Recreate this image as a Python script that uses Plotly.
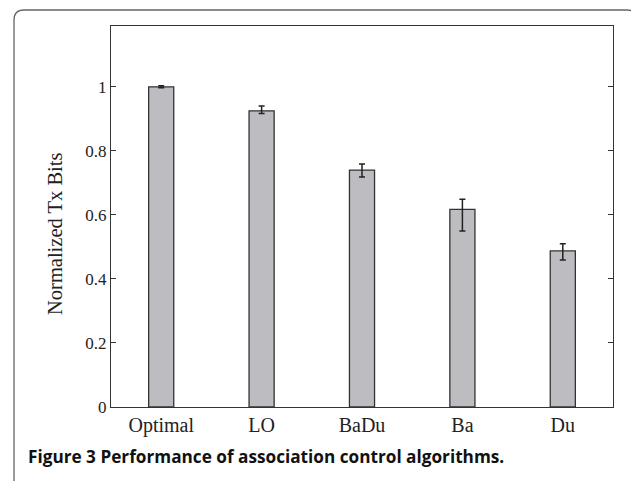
import plotly.graph_objects as go

categories = ["Optimal", "LO", "BaDu", "Ba", "Du"]
values = [1.0, 0.925, 0.740, 0.617, 0.4875]
err_plus = [0.003, 0.015, 0.019, 0.032, 0.022]
err_minus = [0.003, 0.008, 0.022, 0.067, 0.028]
y_ticks = [0, 0.2, 0.4, 0.6, 0.8, 1]
y_tick_labels = ["0", "0.2", "0.4", "0.6", "0.8", "1"]

OFF = 8  # page body margin
W, H = 639 - OFF, 481 - OFF
L, R, T, B = 111 - OFF, 613 - OFF, 26 - OFF, 407 - OFF

def px(x):
    return (x - OFF - L) / (R - L)

def py(y):
    return (B - (y - OFF)) / (B - T)

fig = go.Figure()
fig.add_trace(go.Bar(
    x=categories, y=values, width=0.25,
    marker=dict(color="#bdbdc1", line=dict(color="#333333", width=1.3)),
    error_y=dict(type="data", symmetric=False, array=err_plus, arrayminus=err_minus,
                 color="#222222", thickness=1.5, width=3),
))

# rounded outer frame
x0, x1, y0, y1, r = 14, 637, 10, 500, 10
path = (f"M {px(x0)},{py(y1)} L {px(x0)},{py(y0 + r)} "
        f"Q {px(x0)},{py(y0)} {px(x0 + r)},{py(y0)} "
        f"L {px(x1 - r)},{py(y0)} Q {px(x1)},{py(y0)} {px(x1)},{py(y0 + r)} "
        f"L {px(x1)},{py(y1)}")
fig.add_shape(type="path", xref="paper", yref="paper", path=path,
              line=dict(color="#666666", width=1.3), layer="below")

fig.add_annotation(
    x=px(26), y=py(457), xref="paper", yref="paper", xanchor="left", yanchor="middle",
    text="<b>Figure 3 Performance of association control algorithms.</b>",
    showarrow=False, font=dict(family="Open Sans", size=17.2, color="#111111"),
)

fig.add_annotation(
    x=px(55), y=py(234), xref="paper", yref="paper", xanchor="center", yanchor="middle",
    text="Normalized Tx Bits", textangle=-90,
    showarrow=False, font=dict(family="Liberation Serif", size=20.5, color="#222222"),
)

fig.update_layout(
    width=W, height=H,
    margin=dict(l=L, r=W - R, t=T, b=H - B),
    paper_bgcolor="white", plot_bgcolor="white",
    showlegend=False,
    font=dict(family="Liberation Serif", color="#222222"),
    xaxis=dict(
        range=[-0.5, 4.5], showline=True, linecolor="#333333", linewidth=1.3,
        mirror=True, ticks="", tickfont=dict(size=20, family="Liberation Serif"),
        showgrid=False, zeroline=False,
    ),
    yaxis=dict(
        range=[0, 1.19], tickvals=y_ticks, ticktext=y_tick_labels,
        showline=True, linecolor="#333333", linewidth=1.3, mirror="ticks",
        ticks="inside", ticklen=5, tickcolor="#333333",
        tickfont=dict(size=17, family="Liberation Serif"),
        showgrid=False, zeroline=False,
    ),
)

fig.write_html("out.html")
